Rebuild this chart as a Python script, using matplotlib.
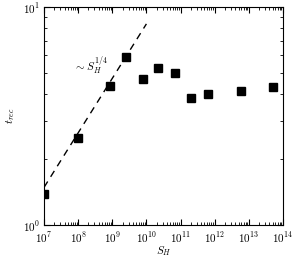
import matplotlib
matplotlib.use("Agg")
import numpy as np
import matplotlib.pyplot as plt
from matplotlib.ticker import NullFormatter, LogLocator

# data
s_h = [1e7, 1e8, 8.5e8, 2.5e9, 8e9, 2.2e10, 7e10, 2e11, 6.3e11, 5.8e12, 5.2e13]
t_rec = [1.39, 2.51, 4.34, 5.9, 4.68, 5.25, 4.98, 3.83, 3.99, 4.12, 4.30]

# guide line ~ S_H^(1/4)
fit_exp = 0.25
fit_x0, fit_y0 = 10**8.47, 10**0.54
fit_range = [1e7, 1e10]

plt.rcParams["mathtext.fontset"] = "cm"
plt.rcParams["font.family"] = "serif"
plt.rcParams["font.serif"] = ["DejaVu Serif"]

fig = plt.figure(figsize=(2.92, 2.57), dpi=100)
ax = fig.add_axes([0.1507, 0.1245, 0.8183, 0.8483])

xf = np.logspace(np.log10(fit_range[0]), np.log10(fit_range[1]), 50)
ax.plot(xf, fit_y0 * (xf / fit_x0) ** fit_exp, "k--", lw=1.0, dashes=(5, 4))
ax.plot(s_h, t_rec, "ks", ms=6)

ax.text(10**8.38, 5.36, r"$\sim S_H^{1/4}$", ha="center", va="center", fontsize=8)

ax.set_xscale("log")
ax.set_yscale("log")
ax.set_xlim(1e7, 1e14)
ax.set_ylim(1, 10)
ax.set_xticks([10.0**k for k in range(7, 15)])
ax.set_xticklabels([r"$10^{%d}$" % k for k in range(7, 15)])
ax.set_yticks([1, 10])
ax.set_yticklabels([r"$10^{0}$", r"$10^{1}$"])
ax.xaxis.set_minor_locator(LogLocator(base=10, subs=np.arange(2, 10), numticks=20))
ax.yaxis.set_minor_locator(LogLocator(base=10, subs=np.arange(2, 10), numticks=20))
ax.xaxis.set_minor_formatter(NullFormatter())
ax.yaxis.set_minor_formatter(NullFormatter())

ax.tick_params(which="both", direction="in", top=True, right=True, labelsize=8)
ax.tick_params(which="major", length=4)
ax.tick_params(which="minor", length=2)
ax.tick_params(axis="x", which="major", pad=4)
ax.tick_params(axis="y", which="major", pad=3)

ax.set_xlabel(r"$S_H$", fontsize=8, labelpad=-1)
ax.set_ylabel(r"$t_{rec}$", fontsize=8, labelpad=4)

fig.savefig("out.png", dpi=100)
plt.close(fig)
